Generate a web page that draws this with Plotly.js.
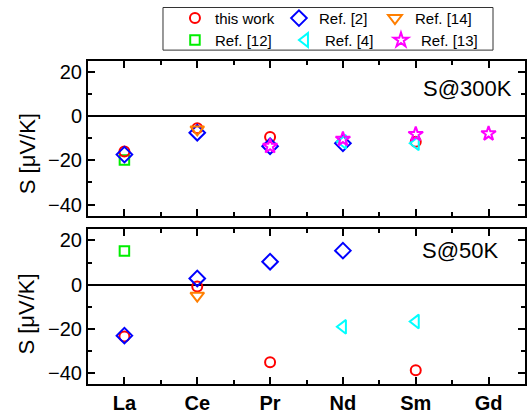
<!DOCTYPE html>
<html>
<head>
<meta charset="utf-8">
<script src="https://cdn.plot.ly/plotly-3.0.1.min.js"></script>
<style>html,body{margin:0;padding:0;background:#fff;}#chart{width:527px;height:414px;}</style>
</head>
<body>
<div id="chart"></div>
<script>
// ---- data ----
const categories = ['La', 'Ce', 'Pr', 'Nd', 'Sm', 'Gd'];
const seriesNames = ['this work', 'Ref. [2]', 'Ref. [14]', 'Ref. [12]', 'Ref. [4]', 'Ref. [13]'];

const thisWork300 = [-16, -5.5, -9.4, null, -11.6, null];
const thisWork50  = [-23.5, -0.8, -35.1, null, -38.8, null];

const ref2_300 = [-17.4, -7.5, -13.6, -12.3, null, null];
const ref2_50  = [-23.1, 2.8, 10.4, 15.4, null, null];

const ref14_300 = [null, -6.0, null, null, null, null];
const ref14_50  = [null, -5.0, null, null, null, null];

const ref12_300 = [-19.8, null, null, null, null, null];
const ref12_50  = [15.2, null, null, null, null, null];

const ref4_300 = [null, null, null, -11.6, -12.3, null];
const ref4_50  = [null, null, null, -19.1, -16.7, null];

const ref13_300 = [null, null, -13.6, -10.4, -8.2, -7.9];
const ref13_50  = [null, null, null, null, null, null];

const panelLabels = ['S@300K', 'S@50K'];
const yTitle = 'S [\u03bcV/K]';

// ---- styling ----
const FONT = 'Liberation Sans, Arial, Helvetica, sans-serif';
const xIdx = categories.map((c, i) => i);

const styles = {
  'this work': {symbol: 'circle-open', color: '#ff0000', size: 10, legend: 'legend', lw: 59},
  'Ref. [2]':  {symbol: 'diamond-open', color: '#0000ff', size: 12, legend: 'legend', lw: 51},
  'Ref. [14]': {symbol: 'triangle-down-open', color: '#ff7f00', size: 12, legend: 'legend', lw: 60},
  'Ref. [12]': {symbol: 'square-open', color: '#00ee00', size: 9.5, legend: 'legend2', lw: 65},
  'Ref. [4]':  {symbol: 'triangle-left-open', color: '#00ffff', size: 12, legend: 'legend2', lw: 51},
  'Ref. [13]': {symbol: 'star-open', color: '#ff00ff', size: 11, legend: 'legend2', lw: 60}
};

const seriesData = {
  'this work': [thisWork300, thisWork50],
  'Ref. [2]': [ref2_300, ref2_50],
  'Ref. [14]': [ref14_300, ref14_50],
  'Ref. [12]': [ref12_300, ref12_50],
  'Ref. [4]': [ref4_300, ref4_50],
  'Ref. [13]': [ref13_300, ref13_50]
};

// draw order (bottom -> top)
const drawOrder = ['Ref. [12]', 'this work', 'Ref. [2]', 'Ref. [14]', 'Ref. [4]', 'Ref. [13]'];

const traces = [];
drawOrder.forEach(name => {
  const st = styles[name];
  const [v300, v50] = seriesData[name];
  const mk = {symbol: st.symbol, size: st.size, color: st.color, line: {color: st.color, width: 2}};
  traces.push({
    x: xIdx, y: v300, xaxis: 'x2', yaxis: 'y2', type: 'scatter', mode: 'markers',
    name: name, marker: mk, legend: st.legend, showlegend: true, legendwidth: st.lw,
    cliponaxis: false, hoverinfo: 'skip'
  });
  traces.push({
    x: xIdx, y: v50, xaxis: 'x', yaxis: 'y', type: 'scatter', mode: 'markers',
    name: name, marker: mk, legend: st.legend, showlegend: false,
    cliponaxis: false, hoverinfo: 'skip'
  });
});

const yAxisCommon = {
  range: [-45, 25], tickmode: 'array', tickvals: [-40, -20, 0, 20],
  ticks: 'inside', ticklen: 7, tickwidth: 2, tickcolor: '#000',
  minor: {tickmode: 'array', tickvals: [-30, -10, 10], ticks: 'inside', ticklen: 4, tickwidth: 2, tickcolor: '#000'},
  showline: true, linecolor: '#000', linewidth: 2, mirror: 'allticks',
  showgrid: false, zeroline: true, zerolinecolor: '#000', zerolinewidth: 2,
  tickfont: {family: FONT, size: 20, color: '#000'}, fixedrange: true
};
const xAxisCommon = {
  range: [-0.5, categories.length - 0.5], tickmode: 'array', tickvals: xIdx, ticktext: categories,
  ticks: 'inside', ticklen: 7, tickwidth: 2, tickcolor: '#000',
  minor: {tickmode: 'array', tickvals: xIdx.slice(0, -1).map(i => i + 0.5), ticks: 'inside', ticklen: 4, tickwidth: 2, tickcolor: '#000'},
  showline: true, linecolor: '#000', linewidth: 2, mirror: 'allticks',
  showgrid: false, zeroline: false,
  tickfont: {family: FONT, size: 20, color: '#000', weight: 'bold'}, fixedrange: true
};

const layout = {
  width: 527, height: 414,
  margin: {l: 88, r: 2, t: 58, b: 30},
  paper_bgcolor: '#fff', plot_bgcolor: '#fff',
  font: {family: FONT, color: '#000'},
  showlegend: true,
  xaxis: Object.assign({}, xAxisCommon, {anchor: 'y', domain: [0, 1]}),
  xaxis2: Object.assign({}, xAxisCommon, {anchor: 'y2', domain: [0, 1], showticklabels: false, matches: 'x'}),
  yaxis: Object.assign({}, yAxisCommon, {anchor: 'x', domain: [0, 0.4785]}),
  yaxis2: Object.assign({}, yAxisCommon, {anchor: 'x2', domain: [0.5215, 1]}),
  legend: {
    orientation: 'h', x: 0.199, xanchor: 'left', y: 1.132, yanchor: 'middle',
    bgcolor: 'rgba(0,0,0,0)', borderwidth: 0, font: {family: FONT, size: 15, color: '#000'},
    itemclick: false, itemdoubleclick: false
  },
  legend2: {
    orientation: 'h', x: 0.199, xanchor: 'left', y: 1.064, yanchor: 'middle',
    bgcolor: 'rgba(0,0,0,0)', borderwidth: 0, font: {family: FONT, size: 15, color: '#000'},
    itemclick: false, itemdoubleclick: false
  },
  shapes: [{
    type: 'rect', xref: 'paper', yref: 'paper',
    x0: 0.1716, x1: 0.9268, y0: 1.0337, y1: 1.1656,
    line: {color: '#333', width: 1}, fillcolor: 'rgba(0,0,0,0)'
  }],
  annotations: [
    {text: panelLabels[0], xref: 'x domain', yref: 'y2 domain', x: 0.974, y: 0.82, xanchor: 'right', yanchor: 'middle',
     showarrow: false, font: {family: FONT, size: 22, color: '#000'}},
    {text: panelLabels[1], xref: 'x domain', yref: 'y domain', x: 0.942, y: 0.865, xanchor: 'right', yanchor: 'middle',
     showarrow: false, font: {family: FONT, size: 22, color: '#000'}},
    {text: yTitle, xref: 'paper', yref: 'y2 domain', x: 0, xshift: -61, y: 0.397, textangle: -90,
     xanchor: 'center', yanchor: 'middle', showarrow: false, font: {family: FONT, size: 22, color: '#000'}},
    {text: yTitle, xref: 'paper', yref: 'y domain', x: 0, xshift: -61, y: 0.449, textangle: -90,
     xanchor: 'center', yanchor: 'middle', showarrow: false, font: {family: FONT, size: 22, color: '#000'}}
  ]
};

Plotly.newPlot('chart', traces, layout, {displayModeBar: false, staticPlot: true});
</script>
</body>
</html>
